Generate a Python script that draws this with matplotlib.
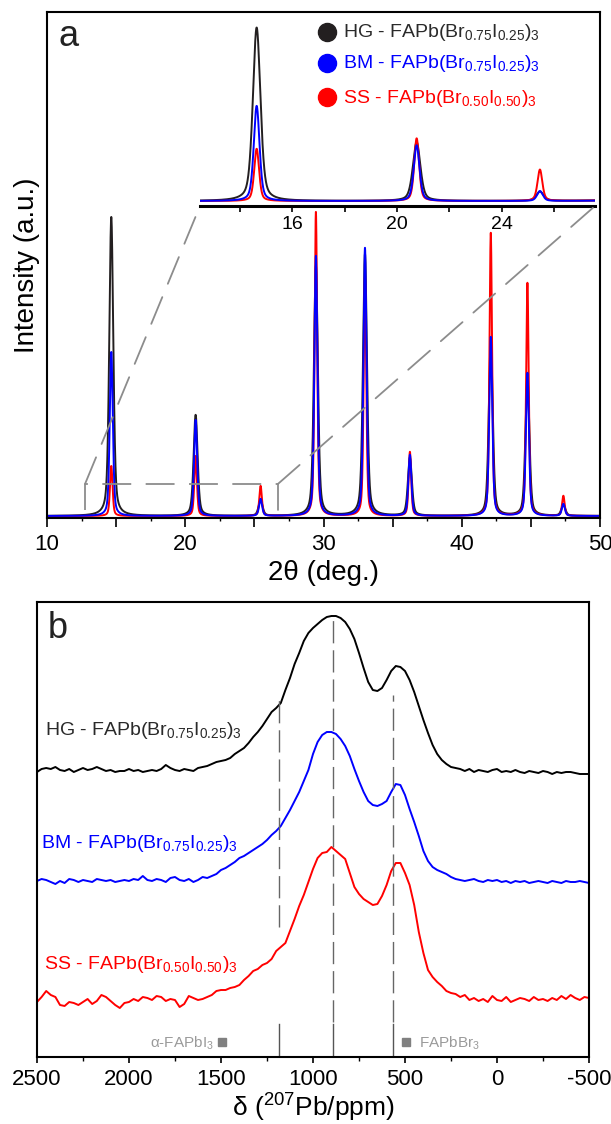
import numpy as np
import matplotlib
matplotlib.use('Agg')
import matplotlib.pyplot as plt
from matplotlib.ticker import MultipleLocator, FuncFormatter
from matplotlib.patches import ConnectionPatch

plt.rcParams['font.family'] = ['Liberation Sans', 'DejaVu Sans']
plt.rcParams['mathtext.fontset'] = 'custom'
plt.rcParams['mathtext.rm'] = 'Liberation Sans'
plt.rcParams['mathtext.it'] = 'Liberation Sans:italic'
plt.rcParams['mathtext.bf'] = 'Liberation Sans:bold'
plt.rcParams['axes.unicode_minus'] = False

# ---------------- data: XRD (panel a) ----------------
peak_pos = [14.65, 20.75, 25.45, 29.45, 33.0, 36.25, 42.1, 44.75, 47.35]
hg_heights = [299, 101, 16, 250, 262, 58, 175, 140, 11]
bm_heights = [164, 96, 17, 260, 268, 61, 179, 143, 12]
ss_heights = [50, 60, 30, 304, 240, 64, 283, 233, 20]
peak_widths = {'HG': 0.17, 'BM': 0.13, 'SS': 0.11}
inset_scale = {'HG': 1.0, 'BM': 1.0, 'SS': 1.8}

labels = {
    'HG': r'HG - FAPb(Br$_{0.75}$I$_{0.25}$)$_3$',
    'BM': r'BM - FAPb(Br$_{0.75}$I$_{0.25}$)$_3$',
    'SS': r'SS - FAPb(Br$_{0.50}$I$_{0.50}$)$_3$',
}
colors = {'HG': '#231f20', 'BM': '#0000ff', 'SS': '#ff0000'}
text_colors = {'HG': '#2a2a2a', 'BM': '#0000ff', 'SS': '#ff0000'}

# ---------------- data: 207Pb NMR (panel b), ppm 2500 -> -500 step 25 ----------------
nmr_ppm = np.linspace(2500, -500, 121)
hg_nmr = [
    285, 288, 289, 288, 290, 287, 286, 288, 285, 287,
    289, 287, 288, 290, 288, 286, 287, 285, 286, 286,
    288, 286, 287, 285, 286, 287, 286, 288, 292, 289,
    287, 286, 288, 287, 286, 289, 290, 291, 293, 295,
    296, 297, 299, 303, 306, 309, 314, 320, 325, 331,
    338, 345, 349, 354, 367, 379, 393, 404, 416, 424,
    429, 433, 437, 440, 441, 441, 439, 435, 428, 418,
    404, 389, 375, 367, 366, 369, 377, 386, 391, 390,
    386, 377, 365, 351, 337, 324, 312, 303, 297, 293,
    290, 289, 288, 286, 288, 285, 287, 286, 285, 287,
    288, 285, 286, 285, 287, 285, 284, 286, 285, 284,
    286, 285, 283, 285, 284, 285, 285, 284, 283, 283,
    283]
bm_nmr = [
    176, 178, 177, 175, 173, 176, 174, 178, 177, 175,
    177, 176, 175, 178, 177, 176, 177, 175, 176, 177,
    176, 178, 177, 181, 177, 176, 178, 177, 175, 179,
    180, 177, 176, 178, 175, 177, 180, 179, 181, 183,
    187, 189, 192, 195, 199, 201, 204, 207, 210, 213,
    217, 222, 226, 231, 239, 247, 256, 265, 276, 287,
    303, 315, 322, 325, 325, 323, 318, 311, 301, 288,
    276, 265, 256, 252, 251, 253, 256, 265, 273, 272,
    262, 248, 235, 221, 206, 196, 190, 187, 185, 183,
    180, 178, 177, 176, 177, 178, 176, 175, 177, 176,
    177, 175, 176, 174, 176, 175, 176, 174, 175, 176,
    175, 174, 176, 175, 174, 176, 175, 175, 176, 175,
    174]
ss_nmr = [
    55, 60, 66, 62, 60, 52, 51, 55, 54, 52,
    55, 58, 53, 56, 62, 60, 56, 52, 49, 54,
    55, 58, 56, 60, 59, 57, 61, 60, 56, 58,
    57, 50, 53, 61, 59, 57, 58, 60, 62, 66,
    67, 67, 69, 70, 72, 77, 81, 86, 88, 92,
    94, 98, 106, 110, 114, 126, 138, 151, 162, 175,
    188, 199, 204, 205, 210, 206, 202, 198, 184, 170,
    163, 158, 155, 152, 153, 161, 172, 186, 194, 194,
    184, 172, 152, 125, 104, 87, 80, 75, 71, 66,
    64, 63, 60, 62, 57, 59, 56, 58, 55, 61,
    57, 56, 60, 55, 57, 59, 58, 56, 60, 57,
    58, 56, 59, 57, 61, 58, 62, 59, 57, 60,
    59]
ref_ppm = [1185, 889, 563]
phase_labels = ['α-FAPbI$_3$', 'FAPbBr$_3$']
phase_ppm = [1495, 495]

# ---------------- figure ----------------
W, H = 611, 1124
fig = plt.figure(figsize=(W / 100, H / 100), dpi=100)


def box(l, t, r, b):
    return [l / W, 1 - b / H, (r - l) / W, (b - t) / H]


def fx(px):
    return px / W


def fy(py):
    return 1 - py / H


def profile(x, heights, w):
    eta = 0.45
    y = np.zeros_like(x)
    for p, h in zip(peak_pos, heights):
        u = (x - p) / w
        y += h * (eta / (1 + u ** 2) + (1 - eta) * np.exp(-np.log(2) * u ** 2))
    return y


x = np.linspace(10, 50, 8001)
series = [('HG', hg_heights), ('SS', ss_heights), ('BM', bm_heights)]

# panel a main
ax1 = fig.add_axes(box(47, 12, 600, 518))
for key, hts in series:
    ax1.plot(x, profile(x, hts, peak_widths[key]), color=colors[key], lw=1.4)
ax1.set_xlim(10, 50)
ax1.set_ylim(-2, 504)
ax1.set_yticks([])
ax1.xaxis.set_major_locator(MultipleLocator(5))
ax1.xaxis.set_minor_locator(MultipleLocator(2.5))
ax1.xaxis.set_major_formatter(FuncFormatter(lambda v, p: '' if v % 10 else f'{v:g}'))
ax1.tick_params(axis='x', which='major', direction='out', length=6.5, width=1.2,
                labelsize=16, pad=5)
ax1.tick_params(axis='x', which='minor', direction='out', length=2.5, width=1.0)
for s in ax1.spines.values():
    s.set_linewidth(1.5)

# zoom box
dash_kw = dict(color='#8c8c8c', lw=1.3, dashes=(16, 8))
ax1.plot([12.75, 12.75, 26.7, 26.7], [6, 32, 32, 1], **dash_kw)

# inset
axin = fig.add_axes(box(200, 20, 595, 206))
xi = np.linspace(12.4, 27.7, 4001)
for key, hts in series:
    axin.plot(xi, inset_scale[key] * profile(xi, hts, peak_widths[key]),
              color=colors[key], lw=1.4)
axin.set_xlim(12.49, 27.55)
axin.set_ylim(-8.6, 312)
axin.set_yticks([])
axin.patch.set_alpha(0)
for side in ['top', 'left', 'right']:
    axin.spines[side].set_visible(False)
axin.spines['bottom'].set_linewidth(2.2)
axin.xaxis.set_major_locator(MultipleLocator(2))
axin.xaxis.set_major_formatter(FuncFormatter(lambda v, p: f'{v:g}' if v % 4 == 0 else ''))
axin.tick_params(axis='x', direction='out', length=4, width=1.2, labelsize=14, pad=3)

for xa, xb in [((12.75, 32), (0, 0)), ((26.7, 32), (1, 0))]:
    con = ConnectionPatch(xyA=xa, coordsA=ax1.transData, xyB=xb, coordsB=axin.transAxes,
                          color='#8c8c8c', lw=1.3, linestyle=(0, (16, 8)))
    fig.add_artist(con)

# legend
for key, py, base in [('HG', 32, 37), ('BM', 63, 68), ('SS', 97, 103)]:
    fig.lines.append(plt.Line2D([fx(327)], [fy(py)], marker='o', ms=13, color=colors[key],
                                transform=fig.transFigure, linestyle='none'))
    fig.text(fx(343), fy(base), labels[key], color=text_colors[key], fontsize=14,
             ha='left', va='baseline')

fig.text(fx(59), fy(46), 'a', fontsize=26, ha='left', va='baseline', color='#222')
fig.text(fx(27), fy(265), 'Intensity (a.u.)', rotation=90, fontsize=20, ha='center', va='center')
fig.text(fx(323), fy(573), '2θ (deg.)', fontsize=20, ha='center', va='center')

# panel b
ax2 = fig.add_axes(box(37, 602, 589, 1057))
nmr = [('HG', hg_nmr), ('BM', bm_nmr), ('SS', ss_nmr)]
for key, vals in nmr:
    ax2.plot(nmr_ppm, vals, color=colors[key] if key != 'HG' else 'black', lw=1.4)
ax2.set_xlim(2500, -500)
ax2.set_ylim(0, 455)
ax2.set_yticks([])
ax2.xaxis.set_major_locator(MultipleLocator(500))
ax2.xaxis.set_minor_locator(MultipleLocator(250))
ax2.tick_params(axis='x', which='major', direction='out', length=4.5, width=1.2,
                labelsize=16, pad=4)
ax2.tick_params(axis='x', which='minor', direction='out', length=3, width=1.0)
for s in ax2.spines.values():
    s.set_linewidth(1.5)

ref_dash_bottom = [130, 35, 35]
ref_dash_top = [357, 439, 362]
for p, b, t in zip(ref_ppm, ref_dash_bottom, ref_dash_top):
    ax2.plot([p, p], [b, t], color='#666666', lw=1.0, dashes=(16, 5))
    ax2.plot([p, p], [0, 33], color='#555555', lw=1.0)

for key, xp, yb in [('HG', 2456, 322), ('BM', 2478, 209), ('SS', 2462, 88)]:
    ax2.text(xp, yb, labels[key], color=text_colors[key], fontsize=14, ha='left',
             va='baseline')

ax2.plot(phase_ppm, [15, 15], linestyle='none', marker='s', ms=6, color='#808080')
ax2.text(1538, 9, phase_labels[0], color='#9a9a9a', fontsize=11, ha='right', va='baseline')
ax2.text(424, 9, phase_labels[1], color='#9a9a9a', fontsize=11, ha='left', va='baseline')

fig.text(fx(48), fy(638), 'b', fontsize=26, ha='left', va='baseline', color='#222')
fig.text(fx(313), fy(1108), r'δ ($^{207}$Pb/ppm)', fontsize=19, ha='center', va='center')

fig.savefig('out.png', dpi=100, facecolor='white')
